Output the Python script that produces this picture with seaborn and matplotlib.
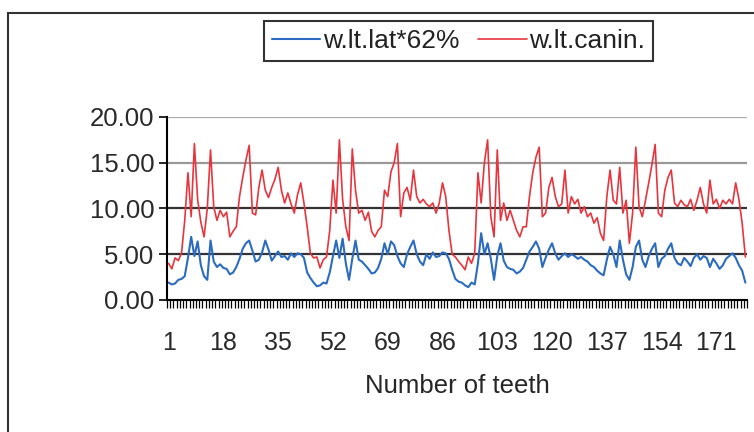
import numpy as np
import pandas as pd
import matplotlib.pyplot as plt
import seaborn as sns
from matplotlib.patches import Rectangle
from matplotlib.ticker import FixedLocator, FormatStrFormatter

# Värden (tand 1-180)
teeth = list(range(1, 181))

lat_62 = [1.9, 1.7, 1.8, 2.2, 2.3, 2.6, 4.6, 6.9, 4.8, 6.4,
          3.8, 2.6, 2.2, 6.5, 4.2, 3.6, 3.9, 3.5, 3.4, 2.8,
          3.0, 3.6, 4.5, 5.6, 6.2, 6.5, 5.4, 4.2, 4.4, 5.2,
          6.5, 5.5, 4.3, 4.8, 5.3, 4.7, 4.8, 4.4, 5.1, 4.7,
          5.1, 5.0, 4.6, 3.0, 2.4, 1.9, 1.5, 1.6, 1.9, 1.8,
          3.0, 4.8, 6.5, 4.6, 6.7, 4.0, 2.2, 4.5, 6.5, 4.4,
          4.2, 3.8, 3.4, 2.9, 3.0, 3.5, 4.5, 6.2, 5.0, 6.4,
          6.0, 4.8, 4.0, 3.6, 5.0, 5.8, 6.5, 5.0, 4.2, 3.8,
          5.0, 4.5, 5.2, 4.7, 4.8, 5.2, 5.1, 4.5, 3.3, 2.3,
          2.0, 1.9, 1.6, 1.4, 1.9, 1.7, 4.0, 7.3, 5.0, 6.2,
          4.5, 2.2, 4.8, 6.2, 4.3, 3.6, 3.4, 3.3, 2.9, 3.1,
          3.5, 4.4, 5.3, 5.8, 6.4, 5.6, 3.6, 4.6, 5.5, 6.2,
          5.1, 4.4, 4.8, 5.1, 4.7, 5.0, 4.8, 4.5, 4.7, 4.4,
          4.2, 3.8, 3.6, 3.2, 2.9, 2.7, 4.4, 5.8, 5.0, 3.6,
          6.5, 4.4, 2.8, 2.2, 3.6, 5.8, 6.5, 4.4, 3.6, 4.8,
          5.6, 6.2, 3.6, 4.5, 4.8, 5.6, 6.2, 4.6, 4.0, 3.8,
          4.6, 4.2, 3.7, 4.6, 5.0, 4.4, 4.8, 4.6, 3.6, 4.5,
          4.0, 3.4, 3.8, 4.5, 4.8, 5.1, 4.6, 3.8, 3.2, 1.9]

canin = [4.0, 3.4, 4.6, 4.3, 5.1, 8.7, 13.9, 9.1, 17.1, 11.0,
         8.5, 6.9, 10.0, 16.4, 10.2, 8.7, 9.8, 9.1, 9.6, 6.9,
         7.5, 8.0, 11.3, 13.4, 15.3, 16.9, 9.5, 9.3, 12.3, 14.2,
         12.0, 11.2, 12.3, 13.2, 14.5, 12.0, 10.6, 11.7, 10.5, 9.5,
         11.5, 12.8, 10.6, 8.0, 5.1, 4.6, 4.7, 3.5, 4.4, 4.7,
         7.6, 13.1, 9.5, 17.5, 11.0, 8.0, 6.5, 16.5, 12.0, 9.5,
         9.8, 8.7, 9.6, 7.5, 6.9, 7.6, 8.0, 12.0, 11.3, 14.0,
         15.0, 17.1, 9.1, 11.7, 12.3, 10.9, 14.2, 11.3, 10.6, 11.0,
         10.5, 10.2, 10.6, 9.5, 10.6, 12.8, 11.3, 7.6, 5.0, 4.7,
         4.2, 3.8, 3.3, 4.7, 4.0, 5.1, 13.9, 10.6, 15.0, 17.5,
         9.1, 6.9, 16.4, 8.7, 10.6, 8.7, 9.8, 8.7, 7.6, 6.9,
         8.0, 8.0, 11.3, 13.9, 15.6, 16.7, 9.1, 9.5, 12.3, 13.4,
         11.3, 10.2, 10.5, 14.2, 9.5, 11.3, 10.5, 11.0, 9.5, 10.2,
         9.1, 9.5, 8.4, 9.0, 7.3, 6.5, 11.3, 14.2, 10.9, 10.5,
         14.5, 9.5, 10.9, 6.2, 9.5, 16.7, 10.2, 9.1, 10.9, 12.8,
         14.8, 17.0, 9.5, 9.1, 12.0, 13.4, 14.2, 10.6, 10.2, 10.9,
         10.4, 10.2, 11.0, 9.8, 10.9, 12.3, 10.5, 9.5, 13.1, 10.5,
         11.0, 10.0, 10.9, 10.5, 11.0, 10.5, 12.8, 11.0, 8.4, 4.7]

x_labels = [1, 18, 35, 52, 69, 86, 103, 120, 137, 154, 171]
y_ticks = [0, 5, 10, 15, 20]

#%%
sns.set_style('white')
plt.rcParams['font.family'] = ['Liberation Sans', 'DejaVu Sans']
plt.rcParams['text.color'] = '#222222'

fig = plt.figure(figsize=(7.54, 4.32), dpi=100)
ax = fig.add_axes([0.2215, 0.3056, 0.7692, 0.4236])

sns.lineplot(x=teeth, y=lat_62, ax=ax, color='#2b6cc0', lw=1.5, label='w.lt.lat*62%')
sns.lineplot(x=teeth, y=canin, ax=ax, color='#e8353d', lw=1.2, label='w.lt.canin.')

ax.set_xlim(0.5, 180.5)
ax.set_ylim(0, 20)

# Rutnät: ljusgrå upptill, mörkare vid 5 och 10
grid_colors = {5: '#333333', 10: '#333333', 15: '#999999', 20: '#aaaaaa'}
for v, c in grid_colors.items():
    ax.axhline(v, color=c, lw=1.6, zorder=0)

ax.yaxis.set_major_locator(FixedLocator(y_ticks))
ax.yaxis.set_major_formatter(FormatStrFormatter('%.2f'))
ax.tick_params(axis='y', direction='out', length=6, width=1.2, color='black',
               labelsize=18.5, labelcolor='#2a2a2a', pad=3, left=True)

ax.xaxis.set_major_locator(FixedLocator(x_labels))
ax.set_xticklabels([str(v) for v in x_labels])
ax.xaxis.set_minor_locator(FixedLocator(np.arange(0.5, 181, 1)))
ax.tick_params(axis='x', which='major', length=0, labelsize=18, labelcolor='#2a2a2a', pad=22)
ax.tick_params(axis='x', which='minor', direction='out', length=6, width=0.9,
               color='black', bottom=True)

for s in ['top', 'right']:
    ax.spines[s].set_visible(False)
for s in ['left', 'bottom']:
    ax.spines[s].set_color('black')
    ax.spines[s].set_linewidth(1.5)

ax.set_xlabel('Number of teeth', fontsize=18.5, labelpad=14)
ax.set_ylabel('')

leg = ax.legend(loc='center', bbox_to_anchor=(0.608, 0.905), bbox_transform=fig.transFigure,
                ncol=2, frameon=True, fancybox=False, fontsize=19, handlelength=1.85,
                handletextpad=0.1, columnspacing=0.7, borderpad=0.3, borderaxespad=0)
leg.get_frame().set_edgecolor('black')
leg.get_frame().set_linewidth(1.5)

# Ram runt hela diagrammet
fig.patches.append(Rectangle((0.0106, -0.05), 1.2, 1.02, transform=fig.transFigure,
                             fill=False, edgecolor='#333333', lw=1.5))

plt.savefig('out.png', dpi=100)
